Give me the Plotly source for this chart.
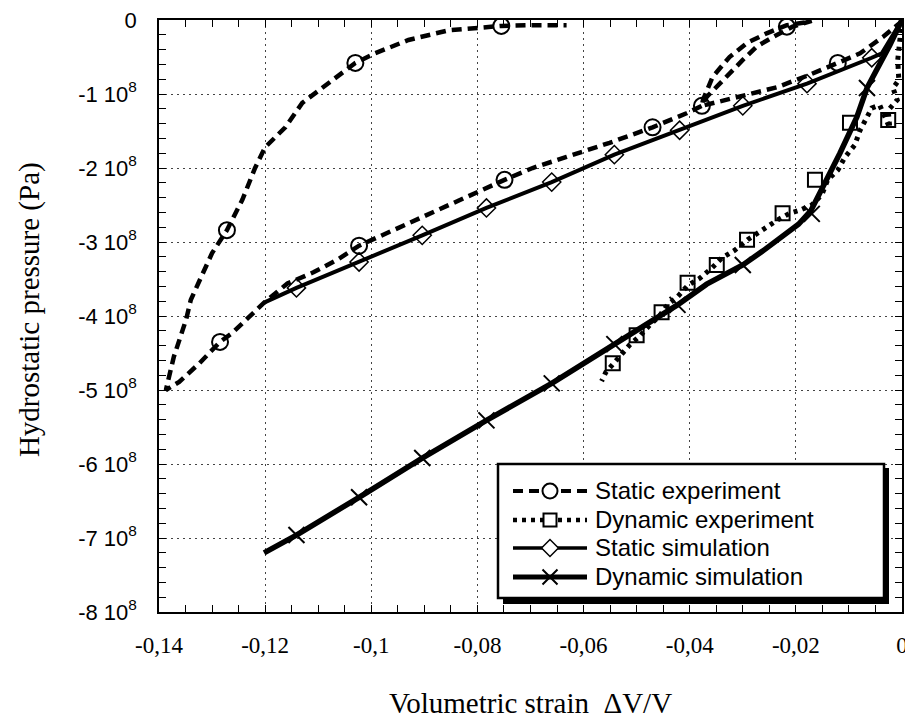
import plotly.graph_objects as go

# ---------------- data (x: volumetric strain, y: pressure in Pa) ----------------
static_exp_x = [0, -0.0004, -0.0036, -0.0079, -0.0121, -0.0174, -0.0236, -0.0330, -0.0377,
                -0.0375, -0.0357, -0.0325, -0.0292, -0.0255, -0.0217, -0.0179, -0.0170,
                -0.0206, -0.0243, -0.0274, -0.0300, -0.0330, -0.0368, -0.0377,
                -0.0406, -0.0470, -0.0551, -0.0632, -0.0696, -0.0749, -0.0783, -0.0821,
                -0.0885, -0.0947, -0.1023, -0.1064, -0.1109, -0.1158, -0.1202, -0.1262,
                -0.1285, -0.1324, -0.1362, -0.1387,
                -0.1378, -0.1372, -0.1349, -0.1340, -0.1300, -0.1272, -0.1243, -0.1219,
                -0.1200, -0.1162, -0.1130, -0.1092, -0.1055, -0.1030, -0.0993, -0.0930,
                -0.0855, -0.0755, -0.0696, -0.0632]
static_exp_y = [0, -0.04e8, -0.23e8, -0.45e8, -0.58e8, -0.74e8, -0.91e8, -1.08e8, -1.16e8,
                -1.08e8, -0.77e8, -0.50e8, -0.31e8, -0.18e8, -0.07e8, -0.03e8, -0.01e8,
                -0.09e8, -0.23e8, -0.36e8, -0.54e8, -0.77e8, -1.04e8, -1.16e8,
                -1.26e8, -1.45e8, -1.66e8, -1.85e8, -2.00e8, -2.16e8, -2.27e8, -2.39e8,
                -2.61e8, -2.80e8, -3.05e8, -3.24e8, -3.41e8, -3.56e8, -3.82e8, -4.23e8,
                -4.35e8, -4.64e8, -4.89e8, -5.00e8,
                -4.75e8, -4.55e8, -4.05e8, -3.78e8, -3.15e8, -2.84e8, -2.43e8, -2.00e8,
                -1.72e8, -1.45e8, -1.12e8, -0.91e8, -0.70e8, -0.58e8, -0.45e8, -0.27e8,
                -0.14e8, -0.08e8, -0.07e8, -0.07e8]
static_exp_mx = [-0.0121, -0.0217, -0.0377, -0.0470, -0.0749, -0.1023, -0.1285, -0.1272, -0.1030, -0.0755]
static_exp_my = [-0.58e8, -0.09e8, -1.16e8, -1.45e8, -2.16e8, -3.05e8, -4.35e8, -2.84e8, -0.58e8, -0.08e8]

dyn_exp_x = [0, -0.0004, -0.0008, -0.0006, -0.0017, -0.0009, -0.0026, -0.0023, -0.0042, -0.0057,
             -0.0079, -0.0089, -0.0108, -0.0121, -0.0140, -0.0151, -0.0170, -0.0192, -0.0211,
             -0.0234, -0.0249, -0.0268, -0.0291, -0.0315, -0.0340, -0.0358, -0.0381, -0.0404,
             -0.0423, -0.0442, -0.0457, -0.0475, -0.0494, -0.0513, -0.0532, -0.0547, -0.0558, -0.0566]
dyn_exp_y = [0, -0.27e8, -0.54e8, -0.81e8, -0.92e8, -1.08e8, -1.22e8, -1.46e8, -1.15e8, -1.19e8,
             -1.49e8, -1.69e8, -1.86e8, -2.03e8, -2.16e8, -2.36e8, -2.50e8, -2.57e8, -2.61e8,
             -2.70e8, -2.77e8, -2.86e8, -2.97e8, -3.11e8, -3.22e8, -3.35e8, -3.49e8, -3.59e8,
             -3.74e8, -3.85e8, -4.00e8, -4.12e8, -4.27e8, -4.39e8, -4.55e8, -4.66e8, -4.76e8, -4.88e8]
dyn_exp_mx = [-0.0026, -0.0098, -0.0164, -0.0225, -0.0292, -0.0349, -0.0404, -0.0453, -0.0500, -0.0545]
dyn_exp_my = [-1.35e8, -1.39e8, -2.16e8, -2.61e8, -2.97e8, -3.31e8, -3.55e8, -3.95e8, -4.26e8, -4.64e8]

static_sim_x = [0, -0.0038, -0.0057, -0.0179, -0.0300, -0.0419, -0.0542, -0.0660, -0.0783,
                -0.0904, -0.1023, -0.1141, -0.1202]
static_sim_y = [0, -0.45e8, -0.51e8, -0.86e8, -1.16e8, -1.49e8, -1.82e8, -2.19e8, -2.54e8,
                -2.91e8, -3.27e8, -3.62e8, -3.82e8]
static_sim_mx = [-0.0057, -0.0179, -0.0300, -0.0419, -0.0542, -0.0660, -0.0783, -0.0904, -0.1023, -0.1141]
static_sim_my = [-0.51e8, -0.86e8, -1.16e8, -1.49e8, -1.82e8, -2.19e8, -2.54e8, -2.91e8, -3.27e8, -3.62e8]

dyn_sim_x = [0, -0.0023, -0.0066, -0.0085, -0.0117, -0.0140, -0.0157, -0.0172, -0.0195, -0.0225,
             -0.0262, -0.0300, -0.0368, -0.0423, -0.0494, -0.0542, -0.0660, -0.0783, -0.0904,
             -0.1023, -0.1141, -0.1202]
dyn_sim_y = [0, -0.34e8, -0.92e8, -1.31e8, -1.80e8, -2.12e8, -2.38e8, -2.58e8, -2.76e8, -2.93e8,
             -3.12e8, -3.31e8, -3.57e8, -3.85e8, -4.17e8, -4.38e8, -4.91e8, -5.41e8, -5.92e8,
             -6.45e8, -6.96e8, -7.20e8]
dyn_sim_mx = [-0.0066, -0.0170, -0.0300, -0.0423, -0.0542, -0.0660, -0.0783, -0.0904, -0.1023, -0.1141]
dyn_sim_my = [-0.92e8, -2.62e8, -3.31e8, -3.85e8, -4.38e8, -4.91e8, -5.41e8, -5.92e8, -6.45e8, -6.96e8]

x_tickvals = [-0.14, -0.12, -0.10, -0.08, -0.06, -0.04, -0.02, 0]
x_ticktext = ["-0,14", "-0,12", "-0,1", "-0,08", "-0,06", "-0,04", "-0,02", "0"]
y_tickvals = [0, -1e8, -2e8, -3e8, -4e8, -5e8, -6e8, -7e8, -8e8]
y_ticktext = ["0"] + [f"-{k} 10<sup>8</sup>" for k in range(1, 9)]

legend_names = ["Static experiment", "Dynamic experiment", "Static simulation", "Dynamic simulation"]

# ---------------- layout geometry ----------------
# the page body has an 8px margin, so the figure is drawn from (8, 8) of the window
OFF = 8
W, H = 913 - OFF, 726 - OFF
PL, PR, PT, PB = 159, 902, 20, 612          # plot-area edges in window pixels
L, T = PL - OFF, PT - OFF
R, B = W - (PR - OFF), H - (PB - OFF)
X0, X1 = -0.14, 0.0
Y0, Y1 = -8e8, 0.0


def px2x(px):
    return X0 + (px - PL) / (PR - PL) * (X1 - X0)


def py2y(py):
    return Y1 - (py - PT) / (PB - PT) * (Y1 - Y0)


SANS = "Liberation Sans, Arial, sans-serif"
SERIF = "Liberation Serif, Times New Roman, serif"
styles = [
    dict(dash="10px,6px", width=4.5, symbol="circle-open", size=16, mlw=2),
    dict(dash="4px,5px", width=5, symbol="square-open", size=14, mlw=2),
    dict(dash="solid", width=4, symbol="diamond-open", size=14, mlw=1.5),
    dict(dash="solid", width=5.5, symbol="x-thin-open", size=16, mlw=2),
]
series = [
    (static_exp_x, static_exp_y, static_exp_mx, static_exp_my),
    (dyn_exp_x, dyn_exp_y, dyn_exp_mx, dyn_exp_my),
    (static_sim_x, static_sim_y, static_sim_mx, static_sim_my),
    (dyn_sim_x, dyn_sim_y, dyn_sim_mx, dyn_sim_my),
]

fig = go.Figure()
for name, (lx, ly, mx, my), st in zip(legend_names, series, styles):
    fig.add_trace(go.Scatter(x=lx, y=ly, mode="lines", name=name, showlegend=False,
                             line=dict(color="black", width=st["width"], dash=st["dash"])))
    fig.add_trace(go.Scatter(x=mx, y=my, mode="markers", name=name, showlegend=False,
                             marker=dict(symbol=st["symbol"], size=st["size"], color="black",
                                         line=dict(color="black", width=st["mlw"]))))

# ---------------- manual legend ----------------
row_py = [491, 520, 548, 577]
for name, st, ry in zip(legend_names, styles, row_py):
    fig.add_trace(go.Scatter(x=[px2x(513), px2x(587)], y=[py2y(ry), py2y(ry)], mode="lines",
                             showlegend=False, hoverinfo="skip",
                             line=dict(color="black", width=st["width"] - 0.5, dash=st["dash"])))
    fig.add_trace(go.Scatter(x=[px2x(550)], y=[py2y(ry)], mode="markers",
                             showlegend=False, hoverinfo="skip",
                             marker=dict(symbol=st["symbol"].replace("-open", ""), size=st["size"] - 1,
                                         color="white", line=dict(color="black", width=st["mlw"]))))
    fig.add_annotation(x=px2x(593), y=py2y(ry - 1), xref="x", yref="y", text=name, showarrow=False,
                       xanchor="left", yanchor="middle",
                       font=dict(family=SANS, size=24, color="black"))

fig.add_shape(type="rect", xref="x", yref="y", x0=px2x(503), y0=py2y(468), x1=px2x(889), y1=py2y(604),
              fillcolor="black", line=dict(width=0), layer="between")
fig.add_shape(type="rect", xref="x", yref="y", x0=px2x(498), y0=py2y(464), x1=px2x(884), y1=py2y(598),
              fillcolor="white", line=dict(color="black", width=2.5), layer="between")

# ---------------- axis titles ----------------
fig.add_annotation(x=0.5, y=(PB - 703) / (PB - PT), xref="paper", yref="paper",
                   text="Volumetric strain\u00a0\u00a0ΔV/V", showarrow=False,
                   xanchor="center", yanchor="middle",
                   font=dict(family=SERIF, size=29, color="black"))
fig.add_annotation(x=(29 - PL) / (PR - PL), y=0.51, xref="paper", yref="paper",
                   text="Hydrostatic pressure (Pa)", showarrow=False, textangle=-90,
                   xanchor="center", yanchor="middle",
                   font=dict(family=SERIF, size=29, color="black"))

fig.update_layout(
    width=W, height=H,
    margin=dict(l=L, r=R, t=T, b=B, autoexpand=False),
    paper_bgcolor="white", plot_bgcolor="white",
    showlegend=False,
    xaxis=dict(range=[X0, X1], tickvals=x_tickvals, ticktext=x_ticktext,
               tickfont=dict(family=SERIF, size=23, color="black"),
               ticks="inside", ticklen=7, tickwidth=1, tickcolor="black",
               minor=dict(dtick=0.005, tick0=0, ticks="inside", ticklen=7, tickcolor="black", showgrid=False),
               showline=True, linecolor="black", linewidth=1.5, mirror="allticks",
               showgrid=True, gridcolor="#444", gridwidth=1, griddash="2px,4px",
               zeroline=False, ticklabelstandoff=12, automargin=False,
               ticklabeloverflow="allow"),
    yaxis=dict(range=[Y0, Y1], tickvals=y_tickvals, ticktext=y_ticktext,
               tickfont=dict(family=SANS, size=22, color="black"),
               ticks="inside", ticklen=7, tickwidth=1, tickcolor="black",
               minor=dict(dtick=0.2e8, tick0=0, ticks="inside", ticklen=7, tickcolor="black", showgrid=False),
               showline=True, linecolor="black", linewidth=1.5, mirror="allticks",
               showgrid=True, gridcolor="#444", gridwidth=1, griddash="2px,4px",
               zeroline=False, ticklabelstandoff=16, automargin=False,
               ticklabeloverflow="allow"),
)

fig.write_html("out.html")
